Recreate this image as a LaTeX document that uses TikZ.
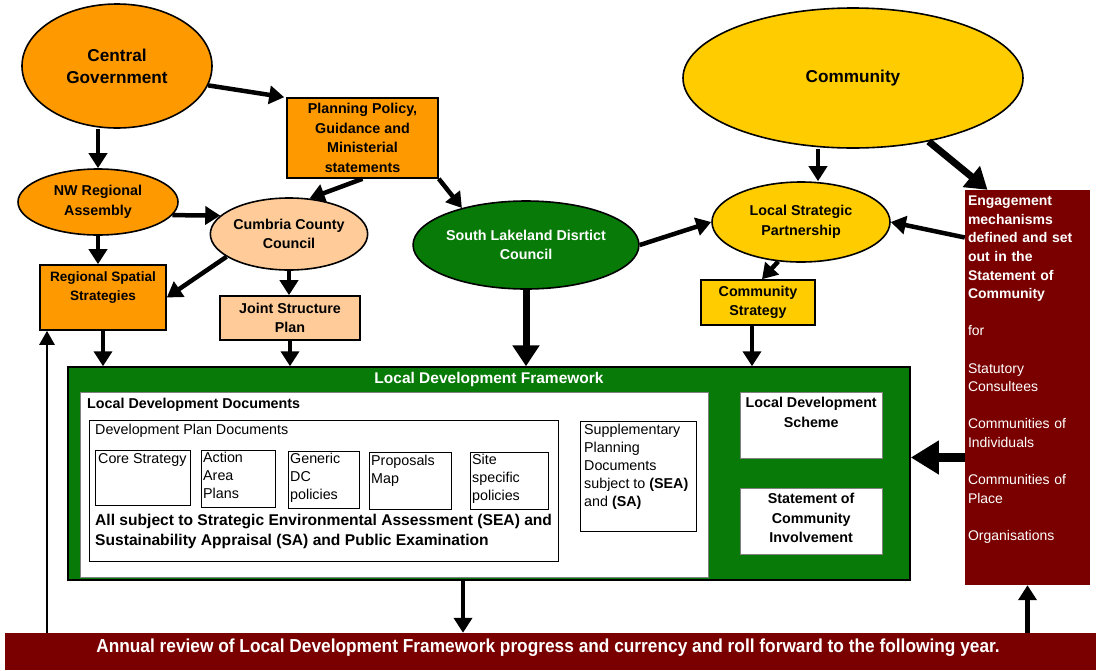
\documentclass[tikz,border=0pt]{standalone}
\usepackage{fontspec}
\setmainfont{Liberation Sans}
\newfontfamily\narrowfont[FakeStretch=0.92]{Liberation Sans}
\usetikzlibrary{shapes.geometric,arrows.meta}
\definecolor{orng}{HTML}{FF9900}
\definecolor{peach}{HTML}{FFCC99}
\definecolor{ldfgreen}{HTML}{077A07}
\definecolor{yel}{HTML}{FFCC00}
\definecolor{darkred}{HTML}{7A0000}
\begin{document}
\begin{tikzpicture}
[x=1pt,y=-1pt,
every node/.style={align=center,inner sep=0pt},
big/.style={font=\bfseries\fontsize{17.2}{22}\selectfont},
mid/.style={font=\bfseries\fontsize{14.3}{19.5}\selectfont},
sml/.style={font=\fontsize{14.3}{18}\selectfont,align=left,anchor=north west},
org/.style={ellipse,draw,line width=1.6pt},
box/.style={rectangle,draw,line width=1.6pt},
docbox/.style={rectangle,draw,line width=1pt,anchor=north west},
arr/.style={-{Triangle[length=15pt,width=18pt]},line width=4.5pt},
bigarr/.style={-{Triangle[length=21pt,width=26pt]},line width=7pt}
]
\useasboundingbox (0,0) rectangle (1096,670);
\node[org,big,fill=orng,minimum width=190,minimum height=124] (cg) at (117,66) {Central\\Government};
\node[box,mid,fill=orng,minimum width=151,minimum height=80] (pp) at (362.5,138) {Planning Policy,\\Guidance and\\Ministerial\\statements};
\node[org,big,fill=yel,minimum width=340,minimum height=140] (com) at (853,78) {Community};
\node[org,mid,fill=orng,minimum width=160,minimum height=66] (nw) at (98,202) {NW Regional\\Assembly};
\node[org,mid,fill=peach,minimum width=154,minimum height=72] (cc) at (289,234) {Cumbria County\\Council};
\node[org,mid,fill=ldfgreen,text=white,minimum width=215,minimum height=88] (sl) at (526,245) {South Lakeland Disrtict\\Council};
\node[org,mid,fill=yel,minimum width=178,minimum height=80] (lsp) at (801,222) {Local Strategic\\Partnership};
\node[box,fill=orng,font=\bfseries\fontsize{13.6}{19.5}\selectfont,minimum width=126,minimum height=65] (rss) at (103,297.5) {Regional Spatial\\Strategies\\[3.5pt]};
\node[box,mid,fill=peach,minimum width=140,minimum height=44] (jsp) at (290,318) {Joint Structure\\Plan};
\node[box,mid,fill=yel,minimum width=114,minimum height=45] (cs) at (758,302.5) {Community\\Strategy};
\node[rectangle,fill=darkred,minimum width=125,minimum height=395] (eng) at (1027.5,387.5) {};
\node[sml,text=white,text width=122,font=\fontsize{14}{18.6}\selectfont] (engt) at ([shift={(3,6)}]eng.north west) {\textbf{Engagement}\\\textbf{mechanisms}\\\textbf{defined and set}\\\textbf{out in the}\\\textbf{Statement of}\\\textbf{Community}\\[18.6pt]for\\[18.6pt]Statutory\\Consultees\\[18.6pt]Communities of\\Individuals\\[18.6pt]Communities of\\Place\\[18.6pt]Organisations};
\node[rectangle,draw,line width=1.5pt,fill=ldfgreen,minimum width=842,minimum height=213] (ldf) at (489,473.5) {};
\node[text=white,font=\bfseries\fontsize{15.5}{18}\selectfont] (ldft) at (489,379) {Local Development Framework};
\node[rectangle,draw=gray,fill=white,minimum width=628,minimum height=185] (ldd) at (394,484.5) {};
\node[mid,anchor=west] (lddt) at (87,405) {Local Development Documents};
\node[docbox,minimum width=469,minimum height=141] (dpd) at (89,420) {};
\node[sml] (dpdt) at (95,424) {Development Plan Documents};
\node[docbox,minimum width=95,minimum height=55] (core) at (95,450) {};
\node[sml] (coret) at ([shift={(3,3)}]core.north west) {Core Strategy};
\node[docbox,minimum width=74,minimum height=57] (aap) at (201,450) {};
\node[sml] (aapt) at ([shift={(2,2)}]aap.north west) {Action\\Area\\Plans};
\node[docbox,minimum width=71,minimum height=57] (gdc) at (288,451) {};
\node[sml] (gdct) at ([shift={(2,2)}]gdc.north west) {Generic\\DC\\policies};
\node[docbox,minimum width=82,minimum height=57] (pm) at (369,452) {};
\node[sml] (pmt) at ([shift={(2,3)}]pm.north west) {Proposals\\Map};
\node[docbox,minimum width=78,minimum height=57] (ssp) at (470,452) {};
\node[sml] (sspt) at ([shift={(2,2)}]ssp.north west) {Site\\specific\\policies};
\node[align=left,anchor=north west,font=\bfseries\fontsize{15.6}{20}\selectfont] (allt) at (95,514) {All subject to Strategic Environmental Assessment (SEA) and\\Sustainability Appraisal (SA) and Public Examination};
\node[docbox,minimum width=116,minimum height=110] (spd) at (580,421) {};
\node[sml] (spdt) at ([shift={(4,3)}]spd.north west) {Supplementary\\Planning\\Documents\\subject to \textbf{(SEA)}\\and \textbf{(SA)}};
\node[rectangle,draw=gray,fill=white,minimum width=142,minimum height=66,anchor=north west] (lds) at (740,392) {};
\node[mid,anchor=north] (ldst) at ([yshift=-5pt]lds.north) {Local Development\\Scheme};
\node[rectangle,draw=gray,fill=white,minimum width=142,minimum height=66,anchor=north west] (sci) at (740,488) {};
\node[mid,anchor=north] (scit) at ([yshift=-5pt]sci.north) {Statement of\\Community\\Involvement};
\node[rectangle,fill=darkred,minimum width=1091,minimum height=37] (ann) at (550.5,651.5) {};
\node[text=white,font=\narrowfont\bfseries\fontsize{18.8}{20}\selectfont] (annt) at (548,648) {Annual review of Local Development Framework progress and currency and roll forward to the following year.};
\coordinate (back) at (47,633);
\draw[arr] (cg.-12) -- ([xshift=-2pt]pp.north west);
\draw[arr] (nw.north |- cg.south) -- (nw.north);
\draw[arr] (pp.south) -- (cc.60);
\draw[arr] (pp.south east) -- (sl.150);
\draw[arr] (nw.-10) -- (cc.165);
\draw[arr] (nw.south) -- (nw.south |- rss.north);
\draw[arr] (cc.200) -- (rss.east);
\draw[arr] (cc.south) -- (cc.south |- jsp.north);
\draw[arr] (rss.south) -- (rss.south |- ldf.north);
\draw[arr] (jsp.south) -- (jsp.south |- ldf.north);
\draw[bigarr] (sl.south) -- (sl.south |- ldf.north);
\draw[arr] (sl.east) -- (lsp.west);
\draw[arr] ([xshift=-35pt]com.south) -- ([xshift=-35pt]com.south |- lsp.north);
\draw[bigarr] (com.-40) -- ([xshift=-40pt]eng.north);
\draw[arr] ([yshift=150pt]eng.west) -- (lsp.east);
\draw[arr] (lsp.240) -- ([xshift=4pt]cs.north);
\draw[arr] ([xshift=-6pt]cs.south) -- ([xshift=-6pt]cs.south |- ldf.north);
\draw[-{Triangle[length=28pt,width=32pt]},line width=9pt] ([yshift=-70pt]eng.west) -- ([yshift=-70pt]eng.west -| ldf.east);
\draw[arr] ([xshift=-26pt]ldf.south) -- ([xshift=-26pt]ldf.south |- ann.north);
\draw[arr] (ann.north -| eng.south) -- (eng.south);
\draw[-{Triangle[length=14pt,width=15pt]},line width=2.5pt] (back) -- (back |- rss.south);
\end{tikzpicture}
\end{document}
